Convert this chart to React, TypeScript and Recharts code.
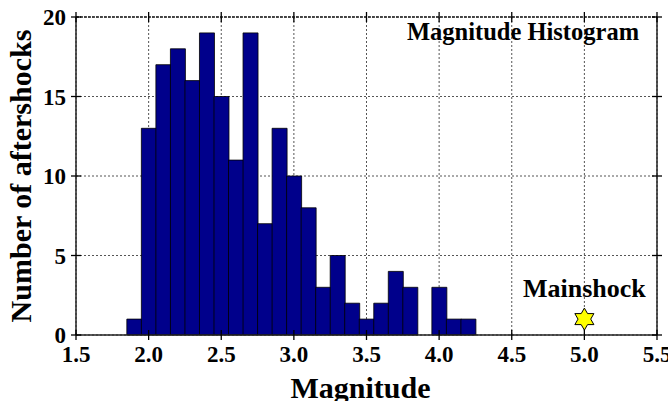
import React from "react";
import {
    ComposedChart,
    Bar,
    Scatter,
    XAxis,
    YAxis,
    CartesianGrid,
    LabelList,
    ReferenceLine,
} from "recharts";

// bin centres (width 0.1) and counts per bin
const magnitudes = [
    1.9, 2.0, 2.1, 2.2, 2.3, 2.4, 2.5, 2.6, 2.7, 2.8, 2.9, 3.0, 3.1, 3.2, 3.3,
    3.4, 3.5, 3.6, 3.7, 3.8, 3.9, 4.0, 4.1, 4.2,
];
const counts = [
    1, 13, 17, 18, 16, 19, 15, 11, 19, 7, 13, 10, 8, 3, 5, 2, 1, 2, 4, 3, 0, 3,
    1, 1,
];
const xTicks = [1.5, 2.0, 2.5, 3.0, 3.5, 4.0, 4.5, 5.0, 5.5];
const yTicks = [0, 5, 10, 15, 20];
const mainshock = [{ mag: 5.0, n: 1, name: "Mainshock" }];

const data = magnitudes.map((m, i) => ({ mag: m, n: counts[i] }));

const FONT = "'Liberation Serif', 'Times New Roman', serif";
const PLOT_TOP = 17;
const PLOT_RIGHT = 657;

const XTick = ({ x, y, payload }: any) => {
    // y is label position; axis line sits 10px above (tickSize 6 + margin 4)
    const ay = y - 10;
    return (
        <g>
            <line x1={x} x2={x} y1={ay - 5} y2={ay + 5} stroke="#000" strokeWidth={1.3} />
            <line x1={x} x2={x} y1={PLOT_TOP - 5} y2={PLOT_TOP + 5} stroke="#000" strokeWidth={1.3} />
            <text
                x={x}
                y={y}
                dy="0.75em"
                textAnchor="middle"
                fontFamily={FONT}
                fontWeight="bold"
                fontSize={23}
                fill="#000"
            >
                {payload.value.toFixed(1)}
            </text>
        </g>
    );
};

const YTick = ({ x, y, payload }: any) => {
    const ax = x + 10;
    return (
        <g>
            <line x1={ax - 5} x2={ax + 5} y1={y} y2={y} stroke="#000" strokeWidth={1.3} />
            <line x1={PLOT_RIGHT - 5} x2={PLOT_RIGHT + 5} y1={y} y2={y} stroke="#000" strokeWidth={1.3} />
            <text
                x={x}
                y={y}
                dy="0.35em"
                textAnchor="end"
                fontFamily={FONT}
                fontWeight="bold"
                fontSize={23}
                fill="#000"
            >
                {payload.value}
            </text>
        </g>
    );
};

// six-pointed star for the mainshock
const Hexagram = ({ cx, cy }: any) => {
    const R = 11;
    const r = R / Math.sqrt(3);
    const pts: string[] = [];
    for (let i = 0; i < 12; i++) {
        const a = (Math.PI / 6) * i - Math.PI / 2;
        const rad = i % 2 === 0 ? R : r;
        pts.push(`${cx + rad * Math.cos(a)},${cy + rad * Math.sin(a)}`);
    }
    return <polygon points={pts.join(" ")} fill="#FFFF00" stroke="#000" strokeWidth={1} />;
};

export default function App() {
    return (
        <div style={{ position: "absolute", left: 0, top: 0, width: 668, height: 401, background: "#fff" }}>
            <ComposedChart
                width={668}
                height={401}
                data={data}
                margin={{ top: PLOT_TOP, right: 668 - PLOT_RIGHT, bottom: 0, left: 0 }}
                barCategoryGap={0}
                barGap={0}
            >
                <CartesianGrid stroke="#555" strokeDasharray="2 2" />
                <XAxis
                    dataKey="mag"
                    type="number"
                    domain={[1.5, 5.5]}
                    ticks={xTicks}
                    interval={0}
                    allowDataOverflow
                    height={66}
                    tickSize={6}
                    tickMargin={4}
                    tickLine={false}
                    tick={<XTick />}
                    axisLine={{ stroke: "#222", strokeWidth: 1.5 }}
                    label={{
                        value: "Magnitude",
                        position: "insideBottom",
                        offset: 3,
                        dx: -6,
                        style: {
                            fontFamily: FONT,
                            fontWeight: "bold",
                            fontSize: 30,
                            fill: "#000",
                        },
                    }}
                />
                <YAxis
                    type="number"
                    domain={[0, 20]}
                    ticks={yTicks}
                    width={76}
                    tickSize={6}
                    tickMargin={4}
                    tickLine={false}
                    tick={<YTick />}
                    axisLine={{ stroke: "#222", strokeWidth: 1.5 }}
                    label={{
                        value: "Number of aftershocks",
                        angle: -90,
                        position: "insideLeft",
                        offset: 20,
                        style: {
                            textAnchor: "middle",
                            fontFamily: FONT,
                            fontWeight: "bold",
                            fontSize: 30,
                            fill: "#000",
                        },
                    }}
                />
                <ReferenceLine y={20} stroke="#222" strokeWidth={1.5} strokeDasharray="3 1" />
                <ReferenceLine x={5.5} stroke="#222" strokeWidth={1.5} />
                <Bar
                    dataKey="n"
                    fill="#00008B"
                    stroke="#000"
                    strokeWidth={0.8}
                    isAnimationActive={false}
                />
                <Scatter
                    data={mainshock}
                    dataKey="n"
                    shape={<Hexagram />}
                    isAnimationActive={false}
                >
                    <LabelList
                        dataKey="name"
                        position="top"
                        offset={18}
                        style={{
                            fontFamily: FONT,
                            fontWeight: "bold",
                            fontSize: 26,
                            fill: "#000",
                        }}
                    />
                </Scatter>
            </ComposedChart>
            <div
                style={{
                    position: "absolute",
                    left: 407,
                    top: 18,
                    fontFamily: FONT,
                    fontWeight: "bold",
                    fontSize: 24.5,
                    color: "#000",
                    whiteSpace: "nowrap",
                }}
            >
                Magnitude Histogram
            </div>
        </div>
    );
}
